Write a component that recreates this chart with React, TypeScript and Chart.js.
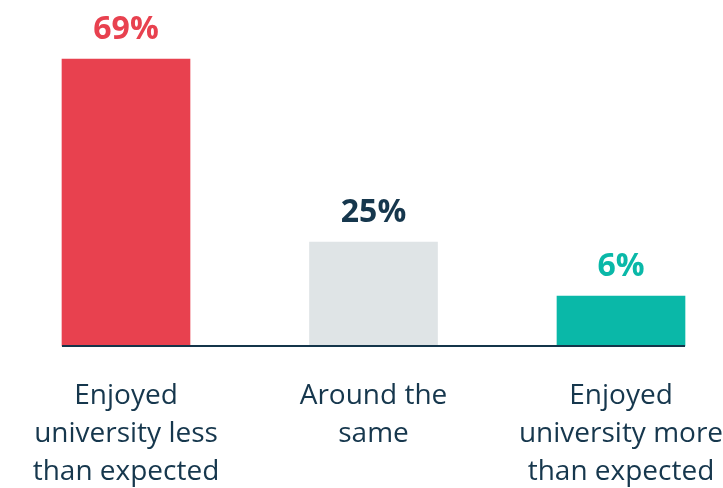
import React, { useEffect, useRef } from "react";
import { Chart, registerables } from "chart.js";

Chart.register(...registerables);

const categories: string[][] = [
  ["Enjoyed", "university less", "than expected"],
  ["Around the", "same"],
  ["Enjoyed", "university more", "than expected"],
];
const values: number[] = [69, 25, 6];
const valueLabels: string[] = ["69%", "25%", "6%"];
const barColors: string[] = ["#E8414F", "#DFE4E6", "#0AB8A8"];
const valueLabelColors: string[] = ["#E8414F", "#16374D", "#0AB8A8"];

const NAVY = "#16374D";
const FONT = "'Open Sans', Lato, sans-serif";

const overlayPlugin = {
  id: "overlay",
  afterDatasetsDraw(chart: any) {
    const ctx = chart.ctx;
    const meta = chart.getDatasetMeta(0);
    const bars = meta.data;
    ctx.save();
    const first = bars[0];
    const last = bars[bars.length - 1];
    ctx.strokeStyle = "#14354A";
    ctx.lineWidth = 2;
    ctx.beginPath();
    ctx.moveTo(first.x - first.width / 2, chart.chartArea.bottom);
    ctx.lineTo(last.x + last.width / 2, chart.chartArea.bottom);
    ctx.stroke();
    ctx.font = `bold 32px ${FONT}`;
    ctx.textAlign = "center";
    ctx.textBaseline = "alphabetic";
    bars.forEach((bar: any, i: number) => {
      ctx.fillStyle = valueLabelColors[i];
      ctx.fillText(valueLabels[i], bar.x, bar.y - 20);
    });
    ctx.restore();
  },
};

export default function App() {
  const ref = useRef<HTMLCanvasElement | null>(null);

  useEffect(() => {
    if (!ref.current) return;
    const chart = new Chart(ref.current, {
      type: "bar",
      data: {
        labels: categories,
        datasets: [
          {
            data: values,
            backgroundColor: barColors,
            borderWidth: 0,
            barThickness: 128,
            minBarLength: 50,
            clip: false as any,
          },
        ],
      },
      options: {
        animation: false,
        responsive: true,
        maintainAspectRatio: false,
        layout: { padding: { left: 126, right: 102, top: 59, bottom: 0 } },
        plugins: {
          legend: { display: false },
          tooltip: { enabled: false },
        },
        scales: {
          x: {
            offset: false,
            grid: { display: false, drawTicks: false },
            border: { display: false },
            ticks: {
              autoSkip: false,
              maxRotation: 0,
              minRotation: 0,
              padding: 31,
              color: NAVY,
              font: { family: FONT, size: 28, lineHeight: 1.36 },
            },
            afterFit: (scale: any) => {
              scale.height = 142;
              scale.paddingLeft = 0;
              scale.paddingRight = 0;
            },
          },
          y: {
            display: false,
            min: 0,
            max: Math.max(...values),
          },
        },
      },
      plugins: [overlayPlugin],
    });
    return () => chart.destroy();
  }, []);

  return (
    <div style={{ position: "absolute", left: 0, top: 0, width: 723, height: 488, background: "#fff" }}>
      <canvas ref={ref} />
    </div>
  );
}
